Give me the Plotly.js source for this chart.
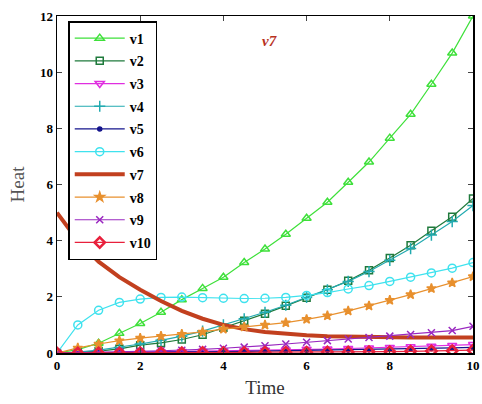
<!DOCTYPE html>
<html><head><meta charset="utf-8">
<script src="https://cdn.plot.ly/plotly-3.0.1.min.js"></script>
<style>html,body{margin:0;padding:0;background:#fff}#chart{width:482px;height:404px}</style>
</head><body><div id="chart"></div>
<script>
const time = [0,0.5,1,1.5,2,2.5,3,3.5,4,4.5,5,5.5,6,6.5,7,7.5,8,8.5,9,9.5,10];
const v1 = [0,0.12,0.35,0.7,1.05,1.45,1.9,2.3,2.7,3.22,3.7,4.23,4.8,5.37,6.08,6.8,7.65,8.5,9.57,10.68,12];
const v2 = [0,0.02,0.07,0.15,0.28,0.36,0.48,0.65,0.9,1.15,1.4,1.68,1.97,2.25,2.57,2.95,3.38,3.84,4.35,4.85,5.5];
const v3 = [0,0,0.01,0.02,0.03,0.04,0.05,0.06,0.07,0.08,0.1,0.11,0.13,0.14,0.16,0.18,0.2,0.22,0.24,0.27,0.3];
const v4 = [0,0.03,0.1,0.2,0.32,0.45,0.6,0.78,1.0,1.22,1.45,1.7,1.98,2.25,2.55,2.9,3.3,3.72,4.2,4.68,5.25];
const v5 = [0,0,0,0.01,0.02,0.03,0.03,0.04,0.05,0.06,0.07,0.08,0.09,0.1,0.11,0.12,0.13,0.15,0.16,0.18,0.2];
const v6 = [0,1.0,1.52,1.8,1.92,1.98,1.99,1.97,1.95,1.94,1.95,1.98,2.05,2.15,2.28,2.4,2.55,2.7,2.85,3.02,3.22];
const v7 = [5.0,4.0,3.25,2.7,2.25,1.85,1.5,1.22,1.0,0.85,0.75,0.68,0.63,0.6,0.58,0.57,0.56,0.55,0.55,0.55,0.55];
const v8 = [0,0.18,0.32,0.44,0.53,0.6,0.67,0.75,0.85,0.93,1.0,1.08,1.2,1.33,1.5,1.68,1.88,2.08,2.3,2.5,2.72];
const v9 = [0,0.01,0.02,0.04,0.06,0.08,0.1,0.13,0.17,0.21,0.26,0.32,0.38,0.44,0.5,0.55,0.6,0.66,0.72,0.8,0.95];
const v10 = [0,0,0,0,0.01,0.01,0.01,0.02,0.02,0.02,0.03,0.03,0.03,0.04,0.04,0.05,0.05,0.06,0.07,0.08,0.1];
const names = ['v1','v2','v3','v4','v5','v6','v7','v8','v9','v10'];
const series = [v1,v2,v3,v4,v5,v6,v7,v8,v9,v10];
const colors = ['#3ee03a','#1f7a3c','#e02ee0','#22aab0','#14148c','#3fe2ee','#c2401f','#e8902e','#9a28c0','#e8203c'];
const symbols = ['triangle-up-open','square-open','triangle-down-open','cross-thin-open','circle','circle-open',null,'star','x-thin-open','diamond-open'];
const sizes = [8,7,8,8,4,8,0,7,7,8];

const traces = names.map((n,i)=>{
  const t = {
    x: time, y: series[i], name: n, type:'scatter', legendgroup:n,
    line:{color:colors[i], width: i===6 ? 4 : 1.2}
  };
  if (symbols[i]) {
    t.mode='lines+markers';
    t.marker={symbol:symbols[i], size:sizes[i], color:colors[i], line:{color:colors[i], width: i===9 ? 2.5 : 1.5}};
  } else t.mode='lines';
  return t;
});

const serif = 'Liberation Serif, Times New Roman, serif';
const tickFont = {family:serif, size:13, color:'#000', weight:'bold'};
const layout = {
  width:482, height:404,
  margin:{l:57, r:9, t:16, b:51},
  paper_bgcolor:'#fff', plot_bgcolor:'#fff',
  showlegend:true,
  legend:{x:0.027, y:0.985, xanchor:'left', yanchor:'top', bgcolor:'#fff',
    bordercolor:'#000', borderwidth:1.5, tracegroupgap:1.5, itemwidth:50,
    font:{family:serif, size:14, color:'#000', weight:'bold'}},
  xaxis:{range:[0,10], tickvals:[0,2,4,6,8,10], ticks:'inside', ticklen:5, tickwidth:1,
    showline:true, linecolor:'#000', linewidth:1.5, mirror:'ticks', showgrid:false, zeroline:false,
    tickfont:tickFont,
    title:{text:'Time', font:{family:serif, size:19, color:'#333'}, standoff:8}},
  yaxis:{range:[0,12], tickvals:[0,2,4,6,8,10,12], ticks:'inside', ticklen:5, tickwidth:1,
    showline:true, linecolor:'#000', linewidth:1.5, mirror:'ticks', showgrid:false, zeroline:false,
    tickfont:tickFont,
    title:{text:'Heat', font:{family:serif, size:19, color:'#555'}, standoff:10}},
  annotations:[{x:5.1, y:11.1, xref:'x', yref:'y', text:'<i>v7</i>', showarrow:false,
    font:{family:serif, size:15, color:'#b8321e', weight:'bold'}}]
};
Plotly.newPlot('chart', traces, layout, {displayModeBar:false, staticPlot:true});
</script></body></html>
